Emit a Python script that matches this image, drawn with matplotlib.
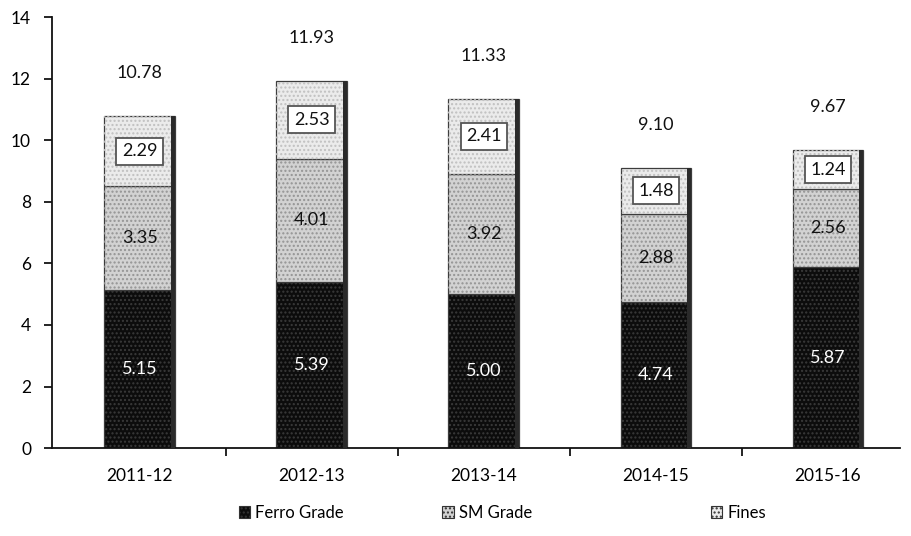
import matplotlib
matplotlib.use("Agg")
import matplotlib.pyplot as plt
import matplotlib.patches as patches
import numpy as np

years = ["2011-12", "2012-13", "2013-14", "2014-15", "2015-16"]
ferro = [5.15, 5.39, 5.00, 4.74, 5.87]
sm_grade = [3.35, 4.01, 3.92, 2.88, 2.56]
fines = [2.29, 2.53, 2.41, 1.48, 1.24]
totals = [10.78, 11.93, 11.33, 9.10, 9.67]
series_names = ["Ferro Grade", "SM Grade", "Fines"]

plt.rcParams.update({"font.family": ["Lato", "DejaVu Sans"], "font.size": 12})

fig = plt.figure(figsize=(9.11, 5.36), dpi=100)
ax = fig.add_axes([0.057, 0.164, 0.931, 0.804])

x = np.arange(len(years))
width = 0.41
ferro_arr = np.array(ferro)
sm_arr = np.array(sm_grade)
fines_arr = np.array(fines)

styles = [
    ("#0c0c0c", "#3a3a3a"),
    ("#d2d2d2", "#949494"),
    ("#ebebeb", "#c0c0c0"),
]
bottoms = [np.zeros(len(x)), ferro_arr, ferro_arr + sm_arr]
values = [ferro_arr, sm_arr, fines_arr]

for (face, dots), vals, bottom in zip(styles, values, bottoms):
    ax.bar(x, vals, width, bottom=bottom, color=face, edgecolor="#3c3c3c", linewidth=0.9, zorder=2)
    ax.bar(x, vals, width, bottom=bottom, fill=False, hatch="....", edgecolor=dots, linewidth=0, zorder=3)
    # darker right-hand edge for the bevel look
    ax.bar(x + width / 2 - 0.012, vals, 0.024, bottom=bottom, color="#2a2a2a", linewidth=0, zorder=4)

for i in range(len(x)):
    ax.text(x[i], ferro_arr[i] / 2, f"{ferro[i]:.2f}", ha="center", va="center",
            color="white", fontsize=13, zorder=6)
    ax.text(x[i], ferro_arr[i] + sm_arr[i] / 2, f"{sm_grade[i]:.2f}", ha="center", va="center",
            color="#111111", fontsize=13, zorder=6)
    ax.text(x[i], ferro_arr[i] + sm_arr[i] + fines_arr[i] / 2, f"{fines[i]:.2f}", ha="center",
            va="center", color="#111111", fontsize=13, zorder=6,
            bbox=dict(boxstyle="square,pad=0.3", fc="white", ec="#555555", lw=1.3))
    ax.annotate(f"{totals[i]:.2f}", (x[i], totals[i]), xytext=(0, 31), textcoords="offset points",
                ha="center", va="center", fontsize=13, color="#111111")

ax.set_xlim(-0.51, 4.42)
ax.set_ylim(0, 14)
ax.set_yticks(range(0, 15, 2))
ax.set_xticks(x)
ax.set_xticklabels(years, fontsize=12.5)
ax.set_xticks(np.arange(0.5, 4.5, 1), minor=True)
ax.tick_params(axis="x", which="major", length=0, pad=14)
ax.tick_params(axis="x", which="minor", length=6, width=1.2, direction="out")
ax.tick_params(axis="y", length=6, width=1.2, direction="out", labelsize=12.5, pad=9)
for side in ["top", "right"]:
    ax.spines[side].set_visible(False)
for side in ["left", "bottom"]:
    ax.spines[side].set_linewidth(1.3)
    ax.spines[side].set_color("#111111")

legend_x = [0.262, 0.485, 0.78]
for (face, dots), name, lx in zip(styles, series_names, legend_x):
    handle = patches.Patch(facecolor=face, edgecolor="#333333", hatch="....", linewidth=0.8)
    fig.legend(handles=[handle], labels=[name], loc="center left", bbox_to_anchor=(lx, 0.043),
               frameon=False, fontsize=12, handlelength=0.7, handleheight=0.7, handletextpad=0.3,
               borderaxespad=0, borderpad=0)

fig.savefig("out.png", dpi=100)
